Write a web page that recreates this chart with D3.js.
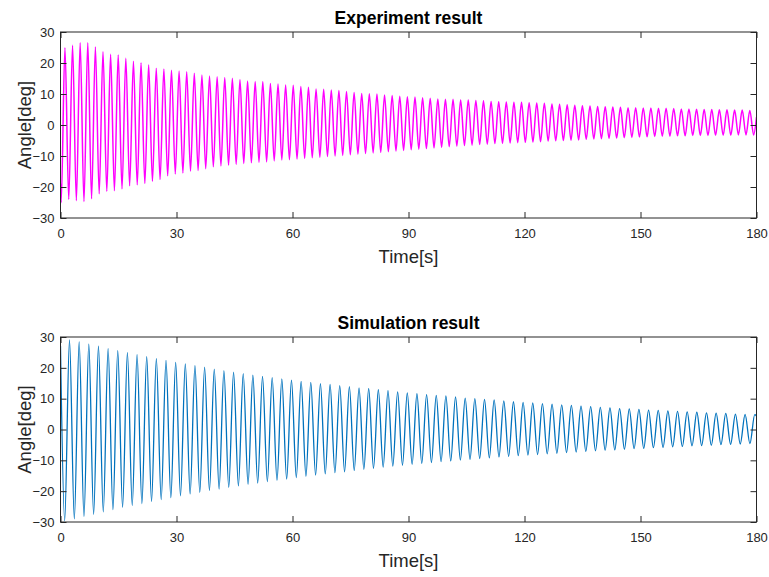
<!DOCTYPE html>
<html>
<head>
<meta charset="utf-8">
<script src="https://cdn.jsdelivr.net/npm/d3@7"></script>
<style>
  html, body { margin: 0; padding: 0; background: #ffffff; }
  svg { display: block; }
  text { font-family: "Liberation Sans", Arial, Helvetica, sans-serif; }
</style>
</head>
<body>
<svg id="chart" width="769" height="577"></svg>
<script>
// ---- Axis ticks ----
const timeTicks = [0, 30, 60, 90, 120, 150, 180];
const angleTicks = [-30, -20, -10, 0, 10, 20, 30];

// ---- Experiment: measured swing (deg) ----
const expStart = [0, -19.0];          // [time s, angle deg]
const expFirstTrough = [0.17, -25.0];
const expFirstPeakTime = 1.15;        // s
const expPeriod = 1.968;              // s
const expPeaks = [
  24.9, 25.7, 26.5, 26.5, 25.2, 23.6, 22.8, 22.6, 21.5, 20.6,
  20.1, 19.4, 18.3, 18.1, 17.7, 17.4, 17.2, 16.7, 16.1, 15.8,
  15.6, 15.3, 15.1, 14.7, 14.2, 14.0, 14.0, 13.4, 13.2, 12.9,
  12.8, 12.4, 12.2, 11.6, 11.5, 11.3, 11.1, 10.8, 10.5, 10.2,
  10.1, 10.0, 9.7, 9.5, 9.3, 9.1, 9.0, 8.8, 8.6, 8.4,
  8.3, 8.3, 8.1, 8.1, 7.9, 7.8, 7.6, 7.5, 7.4, 7.3,
  7.3, 7.2, 7.1, 7.0, 6.8, 6.7, 6.5, 6.4, 6.2, 6.1,
  6.0, 5.9, 5.8, 5.7, 5.6, 5.6, 5.5, 5.5, 5.4, 5.4,
  5.3, 5.2, 5.2, 5.1, 5.0, 5.0, 4.9, 4.9, 4.8, 4.8,
  4.7
];
const expTroughs = [
  -24.0, -24.4, -24.7, -23.8, -22.2, -21.4, -21.2, -20.6, -19.6, -19.3,
  -18.9, -18.2, -17.6, -16.4, -15.8, -15.5, -14.9, -14.7, -14.1, -13.5,
  -13.2, -13.0, -12.7, -12.4, -12.2, -12.0, -11.9, -11.6, -11.3, -11.2,
  -11.0, -10.8, -10.6, -10.4, -10.2, -10.0, -9.8, -9.6, -9.4, -9.2,
  -9.0, -8.8, -8.6, -8.4, -8.2, -8.0, -7.8, -7.6, -7.4, -7.2,
  -7.0, -6.8, -6.6, -6.5, -6.3, -6.2, -6.0, -5.9, -5.8, -5.7,
  -5.6, -5.5, -5.4, -5.2, -5.1, -5.0, -4.9, -4.8, -4.6, -4.5,
  -4.4, -4.3, -4.2, -4.1, -4.0, -3.9, -3.8, -3.7, -3.6, -3.6,
  -3.5, -3.5, -3.4, -3.4, -3.4, -3.3, -3.3, -3.3, -3.2, -3.2,
  -3.2
];
const expEnd = [180, 2.5];

// ---- Simulation: modelled swing (deg) ----
const simStart = [0, 27.0];
const simFirstTroughTime = 1.08;      // s
const simPeriod = 2.496;              // s
const simTroughs = [
  -29.6, -29.0, -28.2, -27.5, -26.7, -26.0, -25.2, -24.6, -24.0, -23.3,
  -22.7, -22.1, -21.5, -20.9, -20.4, -19.8, -19.3, -18.8, -18.3, -17.8,
  -17.4, -16.9, -16.5, -16.1, -15.6, -15.2, -14.8, -14.4, -14.0, -13.7,
  -13.3, -12.9, -12.6, -12.2, -11.9, -11.6, -11.3, -11.0, -10.7, -10.4,
  -10.2, -9.9, -9.7, -9.4, -9.2, -8.9, -8.7, -8.5, -8.3, -8.1,
  -7.9, -7.7, -7.5, -7.3, -7.1, -6.9, -6.7, -6.6, -6.4, -6.2,
  -6.1, -5.9, -5.8, -5.6, -5.5, -5.3, -5.2, -5.1, -4.9, -4.8,
  -4.7, -4.6
];
const simPeaks = [
  29.1, 28.4, 27.7, 27.0, 26.2, 25.6, 24.9, 24.3, 23.6, 23.0,
  22.4, 21.8, 21.3, 20.7, 20.2, 19.6, 19.1, 18.6, 18.1, 17.6,
  17.2, 16.8, 16.4, 16.0, 15.6, 15.3, 14.9, 14.6, 14.2, 13.9,
  13.5, 13.3, 12.9, 12.6, 12.2, 11.9, 11.6, 11.3, 11.1, 10.9,
  10.6, 10.2, 10.0, 9.8, 9.6, 9.3, 9.0, 8.8, 8.6, 8.4,
  8.2, 8.0, 7.8, 7.6, 7.4, 7.2, 7.0, 6.8, 6.7, 6.5,
  6.3, 6.2, 6.0, 5.9, 5.7, 5.6, 5.4, 5.3, 5.2, 5.0,
  4.9, 4.8
];
const simEnd = [180, 4.4];

// ---- Build the swing traces from their turning points ----
function expTrace() {
  const pts = [expStart, expFirstTrough];
  expPeaks.forEach((v, k) => {
    const t = expFirstPeakTime + k * expPeriod;
    pts.push([t, v]);
    pts.push([t + expPeriod / 2, expTroughs[k]]);
  });
  pts.push(expEnd);
  return pts;
}
function simTrace() {
  const pts = [simStart];
  simTroughs.forEach((v, k) => {
    const t = simFirstTroughTime + k * simPeriod;
    pts.push([t, v]);
    pts.push([t + simPeriod / 2, simPeaks[k]]);
  });
  pts.push(simEnd);
  return pts;
}

const svg = d3.select("#chart");
const axisColor = "#262626";
const left = 60.5, right = 756.5;

function drawPanel(cfg) {
  const x = d3.scaleLinear().domain([0, 180]).range([left, right]);
  const y = d3.scaleLinear().domain([-30, 30]).range([cfg.bottom, cfg.top]);
  const g = svg.append("g");
  const clipId = "clip-" + cfg.id;

  g.append("clipPath").attr("id", clipId)
    .append("rect")
    .attr("x", left).attr("y", cfg.top)
    .attr("width", right - left).attr("height", cfg.bottom - cfg.top);

  // swing trace
  const line = d3.line()
    .x(d => x(d[0]))
    .y(d => y(d[1]))
    .curve(d3.curveMonotoneX);
  g.append("path")
    .datum(cfg.data)
    .attr("clip-path", `url(#${clipId})`)
    .attr("fill", "none")
    .attr("stroke", cfg.color)
    .attr("stroke-width", cfg.width)
    .attr("stroke-linejoin", "round")
    .attr("stroke-linecap", "round")
    .attr("d", line);

  const tickLen = 6;
  // bottom axis with labels, ticks pointing inward
  const xAxis = g.append("g")
    .attr("transform", `translate(0,${cfg.bottom})`)
    .call(d3.axisBottom(x).tickValues(timeTicks).tickSizeInner(-tickLen).tickSizeOuter(0).tickPadding(11));
  // top axis, ticks only
  const xTop = g.append("g")
    .attr("transform", `translate(0,${cfg.top})`)
    .call(d3.axisTop(x).tickValues(timeTicks).tickSizeInner(-tickLen).tickSizeOuter(0).tickFormat(""));
  // left axis with labels
  const yAxis = g.append("g")
    .attr("transform", `translate(${left},0)`)
    .call(d3.axisLeft(y).tickValues(angleTicks).tickSizeInner(-tickLen).tickSizeOuter(0).tickPadding(6));
  // right axis, ticks only
  const yRight = g.append("g")
    .attr("transform", `translate(${right},0)`)
    .call(d3.axisRight(y).tickValues(angleTicks).tickSizeInner(-tickLen).tickSizeOuter(0).tickFormat(""));

  [xAxis, xTop, yAxis, yRight].forEach(a => {
    a.select(".domain").remove();
    a.selectAll("line").attr("stroke", axisColor);
    a.selectAll("text")
      .attr("fill", axisColor)
      .style("font-family", "'Liberation Sans', Arial, sans-serif")
      .style("font-size", "13px");
  });

  // axes box
  g.append("rect")
    .attr("x", left).attr("y", cfg.top)
    .attr("width", right - left).attr("height", cfg.bottom - cfg.top)
    .attr("fill", "none")
    .attr("stroke", axisColor)
    .attr("stroke-width", 1);

  // title
  g.append("text")
    .attr("x", (left + right) / 2)
    .attr("y", cfg.top - 8)
    .attr("text-anchor", "middle")
    .attr("fill", "#000")
    .style("font-weight", "bold")
    .style("font-size", "17.5px")
    .text(cfg.title);

  // axis titles
  g.append("text")
    .attr("x", (left + right) / 2)
    .attr("y", cfg.bottom + 45)
    .attr("text-anchor", "middle")
    .attr("fill", axisColor)
    .style("font-size", "18.5px")
    .text("Time[s]");

  g.append("text")
    .attr("transform", `translate(31,${(cfg.top + cfg.bottom) / 2}) rotate(-90)`)
    .attr("text-anchor", "middle")
    .attr("fill", axisColor)
    .style("font-size", "18.5px")
    .text("Angle[deg]");
}

drawPanel({
  id: "exp", title: "Experiment result", top: 32, bottom: 218,
  data: expTrace(), color: "#ff00ff", width: 1.5
});
drawPanel({
  id: "sim", title: "Simulation result", top: 337, bottom: 522,
  data: simTrace(), color: "#0072bd", width: 1.3
});
</script>
</body>
</html>
